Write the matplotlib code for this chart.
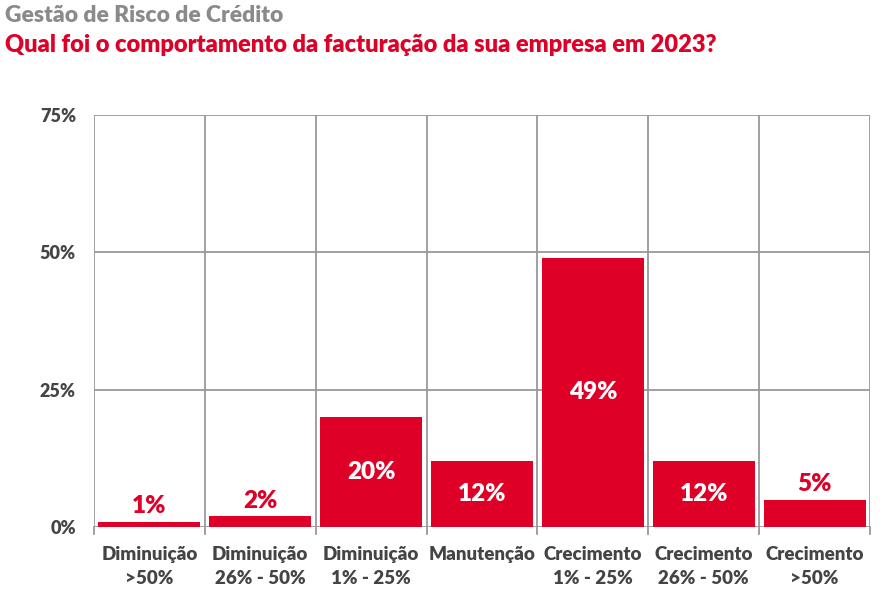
import matplotlib.pyplot as plt
import numpy as np

plt.rcParams['font.family'] = ['Lato', 'DejaVu Sans']

categories = ['Diminuição\n>50%', 'Diminuição\n26% - 50%', 'Diminuição\n1% - 25%',
              'Manutenção', 'Crecimento\n1% - 25%', 'Crecimento\n26% - 50%', 'Crecimento\n>50%']
values = [1, 2, 20, 12, 49, 12, 5]
yticks = [0, 25, 50, 75]

red = '#DE0027'
grid = '#999999'
txt = '#444444'
wt = 'heavy'

fig = plt.figure(figsize=(8.83, 5.95), dpi=100)
ax = fig.add_axes([94 / 883, 68 / 595, 776 / 883, 412 / 595])

x = np.arange(len(values))
ax.bar(x, values, width=0.92, color=red, zorder=3)

ax.set_xlim(-0.5, len(values) - 0.5)
ax.set_ylim(0, 75)
ax.set_yticks(yticks)
ax.set_yticklabels([f'{t}%' for t in yticks])
ax.set_xticks(x)
ax.set_xticklabels(categories)

# grid: horizontal at ticks, vertical at category boundaries
for t in yticks:
    ax.axhline(t, color=grid, lw=1.3, zorder=1)
for b in np.arange(-0.5, len(values), 1.0):
    ax.axvline(b, color=grid, lw=1.3, zorder=1)
    ax.plot([b, b], [0, -1.2], color=grid, lw=1.3, clip_on=False)

for s in ax.spines.values():
    s.set_visible(False)
ax.tick_params(axis='x', length=0, pad=14, labelsize=13.5, labelcolor=txt)
ax.tick_params(axis='y', length=0, pad=13, labelsize=13, labelcolor=txt)
for lab in ax.get_xticklabels() + ax.get_yticklabels():
    lab.set_fontweight(wt)
    lab.set_linespacing(1.45)

for xi, v in zip(x, values):
    if v >= 10:
        ax.text(xi, v / 2, f'{v}%', ha='center', va='center', color='white',
                fontsize=17.5, fontweight=wt, zorder=4)
    else:
        ax.text(xi, v + 0.8, f'{v}%', ha='center', va='bottom', color=red,
                fontsize=17.5, fontweight=wt, zorder=4)

fig.text(5 / 883, 1 - 15 / 595, 'Gestão de Risco de Crédito', ha='left', va='center',
         color='#8a8a8a', fontsize=16.5, fontweight=wt)
fig.text(5 / 883, 1 - 45 / 595, 'Qual foi o comportamento da facturação da sua empresa em 2023?',
         ha='left', va='center', color=red, fontsize=17, fontweight=wt)

fig.savefig('out.png', dpi=100)
